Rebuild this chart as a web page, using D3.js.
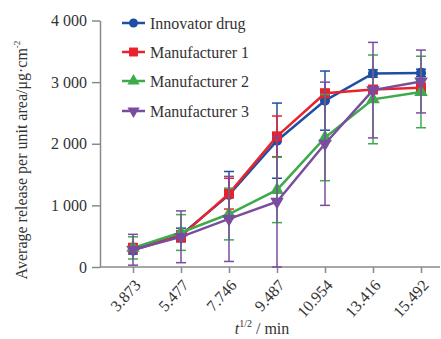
<!DOCTYPE html>
<html>
<head>
<meta charset="utf-8">
<script src="https://cdn.jsdelivr.net/npm/d3@7/dist/d3.min.js"></script>
<style>
  html, body { margin: 0; padding: 0; background: #fff; }
  svg { display: block; }
</style>
</head>
<body>
<svg id="chart" width="441" height="339"></svg>
<script>
// Sampling times (square root of minutes), shown as category labels
const categories = ["3.873", "5.477", "7.746", "9.487", "10.954", "13.416", "15.492"];

const seriesNames = ["Innovator drug", "Manufacturer 1", "Manufacturer 2", "Manufacturer 3"];

// Mean cumulative release (µg·cm⁻²)
const innovatorMean = [270, 520, 1170, 2050, 2700, 3140, 3150];
const manuf1Mean    = [310, 500, 1190, 2120, 2820, 2880, 2910];
const manuf2Mean    = [310, 560, 860, 1250, 2100, 2720, 2840];
const manuf3Mean    = [280, 490, 780, 1060, 2000, 2870, 3010];

// Standard deviations
const innovatorSD = [60, 110, 380, 610, 480, 60, 60];
const manuf1SD    = [70, 90, 250, 330, 60, 60, 70];
const manuf2SD    = [180, 290, 420, 530, 700, 720, 580];
const manuf3SD    = [250, 420, 690, 1060, 1000, 775, 510];

const yTicks = [0, 1000, 2000, 3000, 4000];

const colors = ["#1f4fa3", "#e8232b", "#3eaa4c", "#7a4c9e"];
const markers = [d3.symbolCircle, d3.symbolSquare, d3.symbolTriangle, "triangleDown"];

const FONT = '"Liberation Serif", "Times New Roman", "DejaVu Serif", serif';

const series = [
  { name: seriesNames[0], mean: innovatorMean, sd: innovatorSD },
  { name: seriesNames[1], mean: manuf1Mean, sd: manuf1SD },
  { name: seriesNames[2], mean: manuf2Mean, sd: manuf2SD },
  { name: seriesNames[3], mean: manuf3Mean, sd: manuf3SD }
];

const svg = d3.select("#chart");

const x = d3.scalePoint().domain(categories).range([133, 421]);
const y = d3.scaleLinear().domain([0, 4000]).range([267, 20.5]);

const fmt = v => v === 0 ? "0" : d3.format(",")(v).replace(/,/g, " ");

// Y axis
const yAxis = d3.axisLeft(y).tickValues(yTicks).tickSize(8).tickSizeOuter(0).tickPadding(5).tickFormat(fmt);
const gy = svg.append("g").attr("transform", "translate(100,0)").call(yAxis)
  .attr("font-family", null).attr("font-size", null);
gy.select(".domain").attr("stroke", "#8a8a8a").attr("stroke-width", 1.5);
gy.selectAll(".tick line").attr("stroke", "#8a8a8a").attr("stroke-width", 1.5);
gy.selectAll(".tick text")
  .style("font-family", FONT).style("font-size", "16px").attr("fill", "#333");

// X axis
const xAxis = d3.axisBottom(x).tickSize(6).tickSizeOuter(0);
const gx = svg.append("g").attr("transform", "translate(0,267)").call(xAxis)
  .attr("font-family", null).attr("font-size", null);
gx.select(".domain").attr("d", "M100,0H440").attr("stroke", "#8a8a8a").attr("stroke-width", 1.5);
gx.selectAll(".tick line").attr("stroke", "#8a8a8a").attr("stroke-width", 1.5);
gx.selectAll(".tick text")
  .style("font-family", FONT).style("font-size", "16px")
  .attr("fill", "#333")
  .attr("text-anchor", "end")
  .attr("dy", "0.35em")
  .attr("transform", "translate(4,15) rotate(-48)")
  .attr("x", 0).attr("y", 0);

// Axis titles
svg.append("text")
  .attr("transform", "translate(27,160) rotate(-90)")
  .attr("text-anchor", "middle")
  .attr("fill", "#333")
  .style("font-family", FONT).style("font-size", "16px")
  .html('Average release per unit area/\u03bcg\u00b7cm<tspan dy="-7" font-size="9px">-2</tspan>');

const xt = svg.append("text")
  .attr("x", 262).attr("y", 334)
  .attr("text-anchor", "middle")
  .attr("fill", "#333")
  .style("font-family", FONT).style("font-size", "16px");
xt.append("tspan").attr("font-style", "italic").text("t");
xt.append("tspan").attr("dy", -7).style("font-size", "10px").text("1/2");
xt.append("tspan").attr("dy", 7).text(" / min");

function symbolPath(m, size) {
  if (m === "triangleDown") {
    return d3.symbol().type(d3.symbolTriangle).size(size)();
  }
  return d3.symbol().type(m).size(size)();
}

const line = d3.line().x((d, i) => x(categories[i])).y(d => y(d));

series.forEach((s, k) => {
  const g = svg.append("g");
  const c = colors[k];
  // error bars
  s.mean.forEach((m, i) => {
    const cx = x(categories[i]);
    const top = y(m + s.sd[i]);
    const bot = y(Math.max(0, m - s.sd[i]));
    g.append("line").attr("x1", cx).attr("x2", cx).attr("y1", top).attr("y2", bot)
      .attr("stroke", c).attr("stroke-width", 1.5);
    [top, bot].forEach(yy => {
      g.append("line").attr("x1", cx - 5).attr("x2", cx + 5).attr("y1", yy).attr("y2", yy)
        .attr("stroke", c).attr("stroke-width", 1.5);
    });
  });
  g.append("path").datum(s.mean).attr("d", line)
    .attr("fill", "none").attr("stroke", c).attr("stroke-width", 2.5);
  s.mean.forEach((m, i) => {
    const size = markers[k] === d3.symbolSquare ? 100 : 80;
    const rot = markers[k] === "triangleDown" ? " rotate(180)" : "";
    g.append("path").attr("d", symbolPath(markers[k], size))
      .attr("transform", `translate(${x(categories[i])},${y(m)})${rot}`)
      .attr("fill", c);
  });
});

// Legend
const legendY = [23, 52, 81, 111];
series.forEach((s, k) => {
  const g = svg.append("g").attr("transform", `translate(0,${legendY[k]})`);
  g.append("line").attr("x1", 122).attr("x2", 145).attr("y1", 0).attr("y2", 0)
    .attr("stroke", colors[k]).attr("stroke-width", 2.5);
  const size = markers[k] === d3.symbolSquare ? 80 : 64;
  const rot = markers[k] === "triangleDown" ? " rotate(180)" : "";
  g.append("path").attr("d", symbolPath(markers[k], size))
    .attr("transform", `translate(133.5,0)${rot}`).attr("fill", colors[k]);
  g.append("text").attr("x", 150).attr("y", 0).attr("dy", "0.35em")
    .attr("fill", "#333")
    .style("font-family", FONT).style("font-size", "16px").text(s.name);
});
</script>
</body>
</html>
